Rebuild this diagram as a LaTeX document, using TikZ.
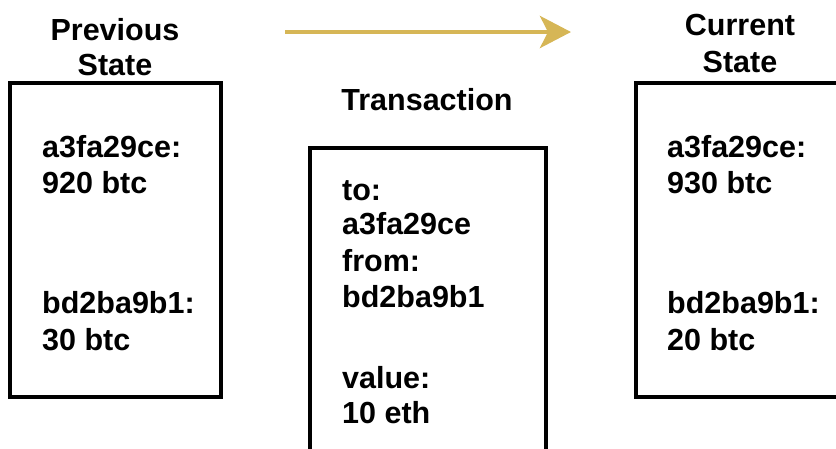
\documentclass[tikz,border=0pt]{standalone}
\usepackage{fontspec}
\setmainfont{Liberation Sans}
\usetikzlibrary{arrows.meta}
\definecolor{gold}{HTML}{D6B656}
\tikzset{
  statebox/.style={draw=black, line width=3.5pt, fill=none},
  lbl/.style={inner sep=0pt, font=\fontsize{30.5}{36}\selectfont\bfseries},
  flow/.style={draw=gold, line width=4.5pt, -{Stealth[length=31pt,width=32pt,inset=8pt]}}
}
\begin{document}
\begin{tikzpicture}[x=1pt,y=-1pt]
\useasboundingbox (0,0) rectangle (836,448);
\begin{scope}
\clip (0,0) rectangle (836,448);
% boxes
\draw[statebox] (10,83) rectangle (221,397);
\node[inner sep=0pt, minimum width=211pt, minimum height=314pt] (prev) at (115.5,240) {};
\draw[statebox] (310,148) rectangle (546,460);
\node[inner sep=0pt, minimum width=236pt, minimum height=300pt] (tx) at (428,298) {};
\draw[statebox] (636,83) rectangle (860,397);
\node[inner sep=0pt, minimum width=200pt, minimum height=314pt] (cur) at (736,240) {};
\end{scope}
% titles
\node[lbl, anchor=base] (prevt1) at (115,40) {Previous};
\node[lbl, anchor=base] (prevt2) at (115,75) {State};
\node[lbl, anchor=base] (curt1) at (740,35) {Current};
\node[lbl, anchor=base] (curt2) at (740,72) {State};
\node[lbl, anchor=base] (txt) at (427,110) {Transaction};
% left box text
\node[lbl, anchor=base west] (p1) at (42,157) {a3fa29ce:};
\node[lbl, anchor=base west] (p2) at (42,193) {920 btc};
\node[lbl, anchor=base west] (p3) at (42,313) {bd2ba9b1:};
\node[lbl, anchor=base west] (p4) at (42,350) {30 btc};
% middle box text
\node[lbl, anchor=base west] (t1) at (342,200) {to:};
\node[lbl, anchor=base west] (t2) at (342,234) {a3fa29ce};
\node[lbl, anchor=base west] (t3) at (342,271) {from:};
\node[lbl, anchor=base west] (t4) at (342,307) {bd2ba9b1};
\node[lbl, anchor=base west] (t5) at (342,388) {value:};
\node[lbl, anchor=base west] (t6) at (342,423) {10 eth};
% right box text
\node[lbl, anchor=base west] (c1) at (667,157) {a3fa29ce:};
\node[lbl, anchor=base west] (c2) at (667,193) {930 btc};
\node[lbl, anchor=base west] (c3) at (667,313) {bd2ba9b1:};
\node[lbl, anchor=base west] (c4) at (667,350) {20 btc};
% arrow
\coordinate (a0) at (285,32);
\coordinate (a1) at (571,32);
\draw[flow] (a0) -- (a1);
\end{tikzpicture}
\end{document}
